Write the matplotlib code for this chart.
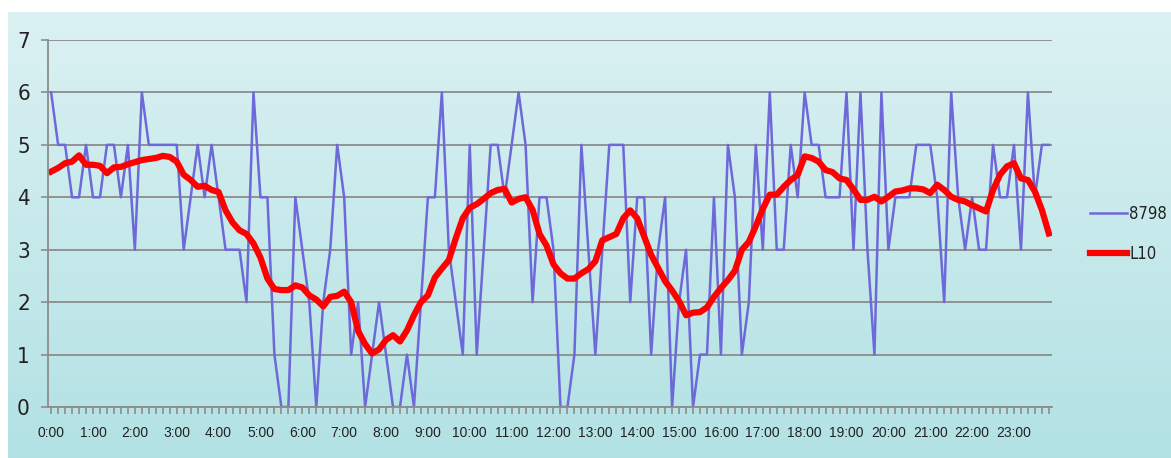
import numpy as np
import matplotlib.pyplot as plt
from matplotlib import font_manager

# 10-minute slots over one day
times = [f"{h}:{m:02d}" for h in range(24) for m in range(0, 60, 10)]
hour_labels = times[::6]

s8798 = [6, 5, 5, 4, 4, 5, 4, 4, 5, 5, 4, 5, 3, 6, 5, 5, 5, 5, 5,
         3, 4, 5, 4, 5, 4, 3, 3, 3, 2, 6, 4, 4, 1, 0, 0, 4, 3, 2, 0, 2, 3, 5, 4, 1,
         2, 0, 1, 2, 1, 0, 0, 1, 0, 2, 4, 4, 6, 3, 2, 1, 5, 1, 3, 5, 5, 4, 5, 6,
         5, 2, 4, 4, 3, 0, 0, 1, 5, 3, 1, 3, 5, 5, 5, 2, 4, 4, 1, 3, 4, 0, 2, 3,
         0, 1, 1, 4, 1, 5, 4, 1, 2, 5, 3, 6, 3, 3, 5, 4, 6, 5, 5, 4, 4, 4, 6, 3,
         6, 3, 1, 6, 3, 4, 4, 4, 5, 5, 5, 4, 2, 6, 4, 3, 4, 3, 3, 5, 4, 4, 5, 3, 6, 4, 5, 5]

l10 = [4.49, 4.56, 4.65, 4.68, 4.80, 4.62, 4.62, 4.60, 4.46, 4.57, 4.58, 4.63,
       4.67, 4.71, 4.73, 4.75, 4.79, 4.77, 4.68, 4.43, 4.33, 4.20, 4.22, 4.14,
       4.10, 3.75, 3.52, 3.37, 3.30, 3.12, 2.85, 2.45, 2.25, 2.23, 2.23, 2.32,
       2.28, 2.13, 2.05, 1.92, 2.10, 2.12, 2.20, 2.00, 1.45, 1.20, 1.02, 1.10,
       1.28, 1.37, 1.25, 1.46, 1.75, 2.00, 2.13, 2.47, 2.64, 2.80, 3.22, 3.60,
       3.80, 3.87, 3.97, 4.08, 4.14, 4.16, 3.90, 3.97, 4.00, 3.76, 3.30, 3.08,
       2.72, 2.55, 2.45, 2.45, 2.55, 2.63, 2.78, 3.18, 3.24, 3.30, 3.60, 3.75,
       3.60, 3.25, 2.90, 2.65, 2.40, 2.22, 2.02, 1.75, 1.80, 1.81, 1.90, 2.10,
       2.27, 2.42, 2.60, 3.00, 3.15, 3.45, 3.78, 4.05, 4.05, 4.20, 4.33, 4.43,
       4.78, 4.75, 4.68, 4.52, 4.48, 4.36, 4.33, 4.15, 3.95, 3.95, 4.01, 3.92,
       4.01, 4.11, 4.13, 4.17, 4.17, 4.15, 4.08, 4.24, 4.14, 4.01, 3.95, 3.92,
       3.85, 3.79, 3.73, 4.14, 4.43, 4.59, 4.65, 4.36, 4.33, 4.11, 3.76, 3.31]

W, H = 1171, 458
condensed = any(f.name == 'DejaVu Sans' and f.stretch == 'condensed'
                for f in font_manager.fontManager.ttflist)
narrow = dict(family='DejaVu Sans', stretch='condensed' if condensed else 'normal')

fig = plt.figure(figsize=(W / 100, H / 100), dpi=100)

# gradient background of the chart area
bg = fig.add_axes([8 / W, 0, 1 - 8 / W, (H - 12) / H])
top = np.array([0.86, 0.945, 0.95])
bot = np.array([0.70, 0.885, 0.895])
t = np.linspace(0, 1, 256)[:, None]
grad = (top * (1 - t) + bot * t)[:, None, :]
bg.imshow(grad, aspect='auto', extent=[0, 1, 0, 1])
bg.axis('off')

ax = fig.add_axes([48 / W, (H - 407) / H, (1052 - 48) / W, (407 - 40) / H])
ax.patch.set_alpha(0)

x = np.arange(len(times))
ax.plot(x, s8798, color='#6e69d9', lw=1.8, label='8798')
ax.plot(x, l10, color='#ff0000', lw=4.5, label='L10', solid_joinstyle='round')

ax.set_xlim(-0.45, len(times) - 1 + 0.45)
ax.set_ylim(0, 7)
ax.set_yticks(range(8))
ax.yaxis.grid(True, color='#8c8c8c', lw=1.3)
ax.set_axisbelow(True)

ax.set_xticks(x[::6])
ax.set_xticklabels(hour_labels, fontsize=10, family='Liberation Sans', color='#222222')
ax.set_xticks(x, minor=True)
ax.tick_params(axis='x', which='both', direction='out', length=5, color='#8c8c8c', width=1.2, pad=9)
ax.tick_params(axis='y', direction='out', length=5, color='#8c8c8c', width=1.2, pad=8,
               labelsize=16, labelcolor='#222222')
for lab in ax.get_yticklabels():
    lab.set_family(narrow['family'])
    lab.set_stretch(narrow['stretch'])

for s in ['top', 'right']:
    ax.spines[s].set_visible(False)
for s in ['left', 'bottom']:
    ax.spines[s].set_color('#8c8c8c')
    ax.spines[s].set_linewidth(1.3)

leg = fig.legend(loc='center left', bbox_to_anchor=(1090 / W, 1 - 234 / H), frameon=False,
                 prop={'family': narrow['family'], 'stretch': narrow['stretch'], 'size': 12},
                 handlelength=2.2, handletextpad=0.15, labelspacing=1.3, borderpad=0,
                 borderaxespad=0)
for txt in leg.get_texts():
    txt.set_color('#222222')

fig.savefig('out.png', dpi=100)
